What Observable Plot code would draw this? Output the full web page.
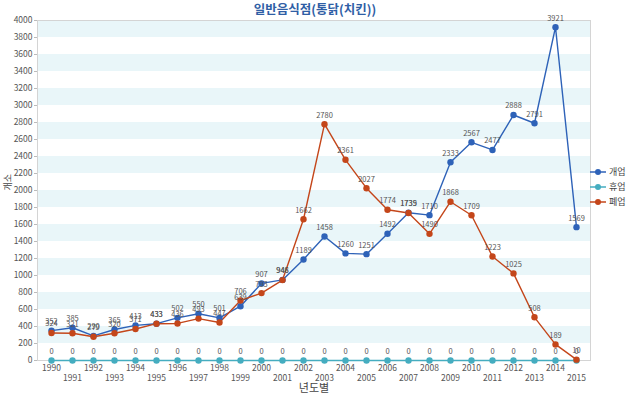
<!DOCTYPE html>
<html>
<head>
<meta charset="utf-8">
<script src="https://cdn.jsdelivr.net/npm/d3@7"></script>
<script src="https://cdn.jsdelivr.net/npm/@observablehq/plot@0.6"></script>
<style>
  html, body { margin: 0; padding: 0; background: #fff; }
  body { font-family: "Noto Sans CJK KR", "Noto Sans", sans-serif; }
  #wrap { position: relative; width: 640px; height: 397px; }
  #title { position: absolute; left: 0; width: 630px; top: 0px; line-height: 17px; text-align: center;
           font-size: 12.5px; font-weight: bold; color: #2f5ea5; }
  #legend { position: absolute; left: 590px; top: 164px; font-size: 9px; color: #444; }
  .li { display: flex; align-items: center; height: 15px; }
  .li svg { margin-right: 3px; }
</style>
</head>
<body>
<div id="wrap">
  <div id="chart"></div>
  <div id="title">일반음식점(통닭(치킨))</div>
  <div id="legend"></div>
</div>
<script>
const years = [1990,1991,1992,1993,1994,1995,1996,1997,1998,1999,2000,2001,2002,2003,2004,2005,2006,2007,2008,2009,2010,2011,2012,2013,2014,2015];
const open   = [352,385,290,365,413,433,502,550,501,639,907,948,1189,1458,1260,1251,1492,1739,1710,2333,2567,2477,2888,2791,3921,1569];
const pause  = [0,0,0,0,0,0,0,0,0,0,0,0,0,0,0,0,0,0,0,0,0,0,0,0,0,0];
const closed = [324,321,279,320,371,433,436,493,447,706,793,946,1662,2780,2361,2027,1774,1735,1490,1868,1709,1223,1025,508,189,10];
const seriesNames = ["개업","휴업","폐업"];
const seriesColors = ["#2e62b8","#45adc0","#c4461a"];
const yTicks = d3.range(0, 4001, 200);
const bandStarts = d3.range(200, 4000, 400);

const data = [];
[open, pause, closed].forEach((vals, si) => {
  vals.forEach((v, i) => data.push({year: years[i], value: v, series: seriesNames[si]}));
});
const evenYears = years.filter(y => y % 2 === 0);
const oddYears = years.filter(y => y % 2 === 1);

const chart = Plot.plot({
  width: 640,
  height: 397,
  marginTop: 20,
  marginBottom: 37,
  marginLeft: 37,
  marginRight: 50,
  style: {fontFamily: "'Noto Sans CJK KR', 'Noto Sans', sans-serif", fontSize: "8.5px", color: "#555"},
  x: {type: "point", domain: years, padding: 0.5, label: null},
  y: {domain: [0, 4000], label: null},
  color: {domain: seriesNames, range: seriesColors},
  marks: [
    Plot.rectY(bandStarts, {y1: d => d, y2: d => d + 200, fill: "#e9f6f9"}),
    Plot.frame({stroke: "#d4d4d4"}),
    Plot.axisY({ticks: yTicks, tickFormat: d => String(d), tickSize: 3, tickPadding: 2, fontSize: 8.5, fill: "#555", stroke: "#bbb", label: null}),
    Plot.axisX({ticks: evenYears, tickFormat: d => String(d), tickSize: 0, tickPadding: 4, fontSize: 8.5, fill: "#555", label: null}),
    Plot.axisX({ticks: oddYears, tickFormat: d => String(d), tickSize: 0, tickPadding: 14, fontSize: 8.5, fill: "#555", label: null}),
    Plot.line(data, {x: "year", y: "value", z: "series", stroke: "series", strokeWidth: 1.4}),
    Plot.dot(data, {x: "year", y: "value", fill: "series", r: 3.2}),
    Plot.text(data, {x: "year", y: "value", text: d => String(d.value), dy: -9, fontSize: 7.5, fill: "#555"}),
    Plot.text(["년도별"], {frameAnchor: "bottom", dy: 31, fontSize: 11, fill: "#444"}),
    Plot.text(["개소"], {frameAnchor: "left", dx: -29, rotate: -90, fontSize: 9, fill: "#444"})
  ]
});
document.getElementById("chart").appendChild(chart);

const legend = document.getElementById("legend");
seriesNames.forEach((n, i) => {
  const row = document.createElement("div");
  row.className = "li";
  row.innerHTML = `<svg width="16" height="8"><line x1="0" x2="16" y1="4" y2="4" stroke="${seriesColors[i]}" stroke-width="1.5"/><circle cx="8" cy="4" r="3" fill="${seriesColors[i]}"/></svg><span>${n}</span>`;
  legend.appendChild(row);
});
</script>
</body>
</html>
